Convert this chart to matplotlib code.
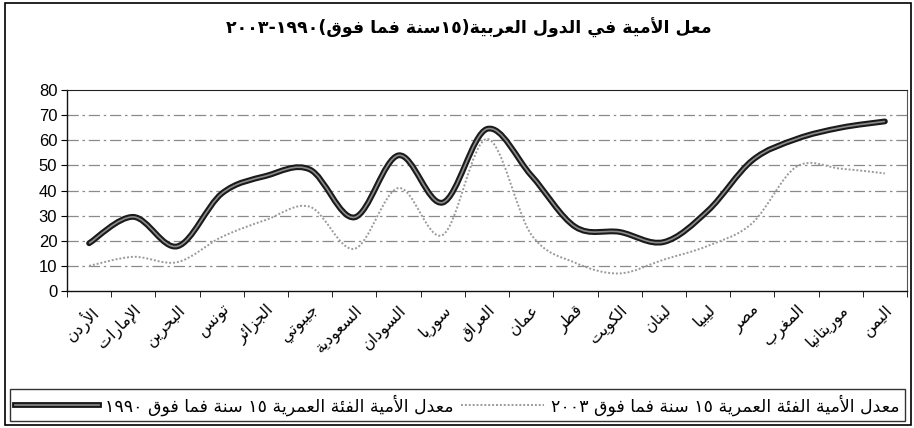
import matplotlib
matplotlib.use("Agg")
import matplotlib.pyplot as plt
from matplotlib.path import Path
from matplotlib.patches import PathPatch, Rectangle
from matplotlib.lines import Line2D
from matplotlib.ticker import MultipleLocator, FixedLocator

plt.rcParams["font.family"] = ["Liberation Sans", "DejaVu Sans"]

countries = ["الأردن", "الإمارات", "البحرين", "تونس", "الجزائر", "جيبوتي",
             "السعودية", "السودان", "سوريا", "العراق", "عمان", "قطر",
             "الكويت", "لبنان", "ليبيا", "مصر", "المغرب", "موريتانيا", "اليمن"]
rate_1990 = [19, 29.5, 17.8, 38.8, 45.8, 48.3, 29.3, 54, 35.2, 64.5, 46,
             25.5, 23.5, 19.5, 32, 52, 60.5, 65, 67.5]
rate_2003 = [10, 13.6, 11.5, 21.5, 28.3, 33.5, 16.8, 41, 22.3, 60.5, 22.5,
             11.2, 7, 12.5, 18, 27, 49.5, 48.7, 46.8]

title = "معل الأمية في الدول العربية(١٥سنة فما فوق)١٩٩٠-٢٠٠٣"
label_1990 = "معدل الأمية الفئة العمرية ١٥ سنة فما فوق ١٩٩٠"
label_2003 = "معدل الأمية الفئة العمرية ١٥ سنة فما فوق ٢٠٠٣"

# --- minimal arabic shaping (matplotlib has no shaping / bidi) ---
# letter -> (isolated, final, initial, medial)
_forms = {
    "ء": (0xFE80, None, None, None), "آ": (0xFE81, 0xFE82, None, None),
    "أ": (0xFE83, 0xFE84, None, None), "ؤ": (0xFE85, 0xFE86, None, None),
    "إ": (0xFE87, 0xFE88, None, None), "ئ": (0xFE89, 0xFE8A, 0xFE8B, 0xFE8C),
    "ا": (0xFE8D, 0xFE8E, None, None), "ب": (0xFE8F, 0xFE90, 0xFE91, 0xFE92),
    "ة": (0xFE93, 0xFE94, None, None), "ت": (0xFE95, 0xFE96, 0xFE97, 0xFE98),
    "ث": (0xFE99, 0xFE9A, 0xFE9B, 0xFE9C), "ج": (0xFE9D, 0xFE9E, 0xFE9F, 0xFEA0),
    "ح": (0xFEA1, 0xFEA2, 0xFEA3, 0xFEA4), "خ": (0xFEA5, 0xFEA6, 0xFEA7, 0xFEA8),
    "د": (0xFEA9, 0xFEAA, None, None), "ذ": (0xFEAB, 0xFEAC, None, None),
    "ر": (0xFEAD, 0xFEAE, None, None), "ز": (0xFEAF, 0xFEB0, None, None),
    "س": (0xFEB1, 0xFEB2, 0xFEB3, 0xFEB4), "ش": (0xFEB5, 0xFEB6, 0xFEB7, 0xFEB8),
    "ص": (0xFEB9, 0xFEBA, 0xFEBB, 0xFEBC), "ض": (0xFEBD, 0xFEBE, 0xFEBF, 0xFEC0),
    "ط": (0xFEC1, 0xFEC2, 0xFEC3, 0xFEC4), "ظ": (0xFEC5, 0xFEC6, 0xFEC7, 0xFEC8),
    "ع": (0xFEC9, 0xFECA, 0xFECB, 0xFECC), "غ": (0xFECD, 0xFECE, 0xFECF, 0xFED0),
    "ف": (0xFED1, 0xFED2, 0xFED3, 0xFED4), "ق": (0xFED5, 0xFED6, 0xFED7, 0xFED8),
    "ك": (0xFED9, 0xFEDA, 0xFEDB, 0xFEDC), "ل": (0xFEDD, 0xFEDE, 0xFEDF, 0xFEE0),
    "م": (0xFEE1, 0xFEE2, 0xFEE3, 0xFEE4), "ن": (0xFEE5, 0xFEE6, 0xFEE7, 0xFEE8),
    "ه": (0xFEE9, 0xFEEA, 0xFEEB, 0xFEEC), "و": (0xFEED, 0xFEEE, None, None),
    "ى": (0xFEEF, 0xFEF0, None, None), "ي": (0xFEF1, 0xFEF2, 0xFEF3, 0xFEF4),
}
_lam_alef = {"آ": (0xFEF5, 0xFEF6), "أ": (0xFEF7, 0xFEF8),
             "إ": (0xFEF9, 0xFEFA), "ا": (0xFEFB, 0xFEFC)}


def _dual(c):
    return c in _forms and _forms[c][2] is not None


def shape(s):
    out = []
    i = 0
    while i < len(s):
        c = s[i]
        prev = s[i - 1] if i > 0 else ""
        if c not in _forms:
            out.append(c)
            i += 1
            continue
        joins_prev = _dual(prev)
        if c == "ل" and i + 1 < len(s) and s[i + 1] in _lam_alef:
            iso, fin = _lam_alef[s[i + 1]]
            out.append(chr(fin if joins_prev else iso))
            i += 2
            continue
        nxt = s[i + 1] if i + 1 < len(s) else ""
        joins_next = _dual(c) and nxt in _forms
        iso, fin, ini, med = _forms[c]
        if joins_prev and joins_next:
            code = med
        elif joins_prev:
            code = fin
        elif joins_next:
            code = ini
        else:
            code = iso
        out.append(chr(code))
        i += 1
    return "".join(out)


def rtl(s):
    s = shape(s)
    digits = set("٠١٢٣٤٥٦٧٨٩0123456789")
    mirror = {"(": ")", ")": "("}
    segs, cur, isdig = [], "", None
    for c in s:
        d = c in digits
        if cur and d != isdig:
            segs.append((cur, isdig))
            cur = ""
        cur += c
        isdig = d
    if cur:
        segs.append((cur, isdig))
    res = []
    for txt, d in reversed(segs):
        res.append(txt if d else "".join(mirror.get(c, c) for c in reversed(txt)))
    return "".join(res)


def smooth_path(ys):
    # bezier segments through the points, like spreadsheet "smoothed line"
    pts = list(enumerate(ys))
    n = len(pts)
    verts = [pts[0]]
    codes = [Path.MOVETO]
    for i in range(n - 1):
        p0 = pts[max(i - 1, 0)]
        p1 = pts[i]
        p2 = pts[i + 1]
        p3 = pts[min(i + 2, n - 1)]
        c1 = (p1[0] + (p2[0] - p0[0]) / 6, p1[1] + (p2[1] - p0[1]) / 6)
        c2 = (p2[0] - (p3[0] - p1[0]) / 6, p2[1] - (p3[1] - p1[1]) / 6)
        verts += [c1, c2, p2]
        codes += [Path.CURVE4] * 3
    return Path(verts, codes)


fig = plt.figure(figsize=(9.14, 4.28), dpi=100)
ax = fig.add_axes([67 / 914, 1 - 291 / 428, 840 / 914, 201 / 428])

n = len(countries)
ax.set_xlim(-0.5, n - 0.5)
ax.set_ylim(0, 80)

for y in range(10, 80, 10):
    ax.axhline(y, color="#8a8a8a", lw=0.9, ls=(0, (9, 3, 2, 3)), zorder=1)

p90 = smooth_path(rate_1990)
p03 = smooth_path(rate_2003)
ax.add_patch(PathPatch(p03, facecolor="none", edgecolor="#9a9a9a", lw=1.4,
                       ls=(0, (1, 1)), zorder=2))
ax.add_patch(PathPatch(p90, facecolor="none", edgecolor="#1a1a1a", lw=4.2,
                       capstyle="round", joinstyle="round", zorder=3))
ax.add_patch(PathPatch(p90, facecolor="none", edgecolor="#8c8c8c", lw=1.2,
                       zorder=4))

ax.yaxis.set_major_locator(MultipleLocator(10))
ax.tick_params(axis="y", labelsize=12, length=4, direction="out", pad=3)
ax.set_xticks(range(n))
ax.set_xticklabels([rtl(c) for c in countries], rotation=45, ha="right",
                   rotation_mode="anchor", fontsize=11.5, family="DejaVu Sans")
ax.tick_params(axis="x", which="major", length=0, pad=8)
ax.xaxis.set_minor_locator(FixedLocator([i - 0.5 for i in range(n + 1)]))
ax.tick_params(axis="x", which="minor", length=4, direction="out")

for side in ["left", "bottom"]:
    ax.spines[side].set_color("#111111")
    ax.spines[side].set_linewidth(1.0)
ax.spines["top"].set_color("#222222")
ax.spines["right"].set_color("#555555")
ax.spines["right"].set_linestyle((0, (1, 1)))

fig.text(469 / 914, 1 - 28 / 428, rtl(title), ha="center", va="center",
         fontsize=12.5, fontweight="bold", family="DejaVu Sans")

h90 = (Line2D([], [], color="#1a1a1a", lw=4.2),
       Line2D([], [], color="#8c8c8c", lw=1.2))
h03 = Line2D([], [], color="#9a9a9a", lw=1.4, ls=(0, (1, 1)))
leg = fig.legend([h90, h03], [rtl(label_1990), rtl(label_2003)], ncol=2,
                 loc="lower left", mode="expand",
                 bbox_to_anchor=(10 / 914, 1 - 421 / 428, 895 / 914, 29 / 428),
                 frameon=True, fancybox=False, edgecolor="black",
                 handlelength=4.8, columnspacing=0.5, handletextpad=0.4,
                 borderpad=0.3, borderaxespad=0,
                 prop={"family": "DejaVu Sans", "size": 12.5})
leg.get_frame().set_linewidth(1.0)

fig.patches.append(Rectangle((5 / 914, 3 / 428), 906 / 914, 422 / 428,
                             transform=fig.transFigure, fill=False,
                             edgecolor="black", lw=1.2))

fig.savefig("out.png", dpi=100)
